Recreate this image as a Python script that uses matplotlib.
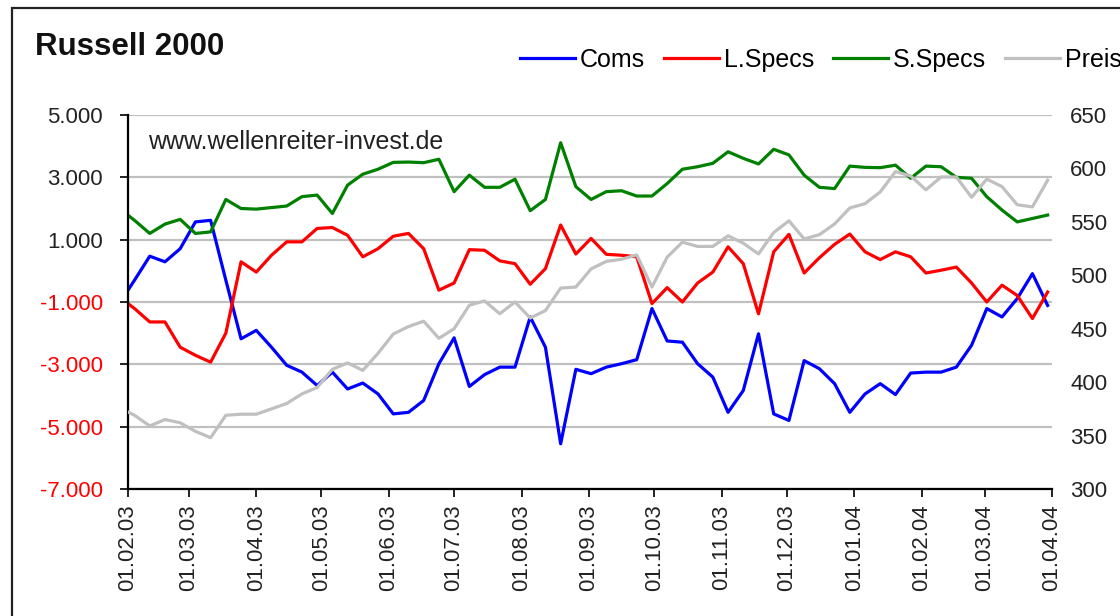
import matplotlib
matplotlib.use("Agg")
import matplotlib.pyplot as plt
import matplotlib.dates as mdates
from matplotlib.patches import Rectangle
from matplotlib.ticker import FuncFormatter
import pandas as pd

plt.rcParams['font.family'] = ['Liberation Sans', 'DejaVu Sans']

# weekly COT data (Tuesdays), first point lies just before the axis start
dates = pd.date_range("2003-01-28", periods=62, freq="7D")

coms = [-1050, -300, 470, 290, 710, 1570, 1620, -300, -2180, -1910,
        -2450, -3030, -3250, -3680, -3250, -3790, -3600, -3950, -4590, -4540,
        -4160, -2980, -2150, -3710, -3330, -3090, -3090, -1480, -2450, -5550,
        -3160, -3300, -3090, -2980, -2850, -1210, -2250, -2290, -2980, -3410,
        -4540, -3840, -2020, -4590, -4800, -2880, -3140, -3620, -4540, -3950,
        -3620, -3970, -3280, -3250, -3250, -3090, -2390, -1210, -1480, -890,
        -90, -1110]
l_specs = [-840, -1210, -1640, -1640, -2450, -2710, -2930, -2000, 290, -40,
           500, 930, 930, 1360, 1390, 1140, 450, 710, 1110, 1200,
           710, -620, -390, 680, 660, 320, 230, -430, 70, 1470,
           540, 1040, 530, 500, 450, -1050, -540, -1000, -390, -40,
           770, 230, -1380, 610, 1170, -70, 420, 850, 1180, 610,
           360, 610, 450, -70, 20, 120, -390, -1000, -460, -790,
           -1530, -680]
s_specs = [2000, 1620, 1200, 1500, 1650, 1200, 1250, 2290, 2000, 1980,
           2030, 2080, 2380, 2430, 1840, 2750, 3100, 3260, 3480, 3490,
           3470, 3580, 2540, 3070, 2680, 2680, 2940, 1930, 2290, 4110,
           2700, 2290, 2540, 2570, 2400, 2400, 2800, 3260, 3340, 3450,
           3820, 3610, 3430, 3900, 3720, 3070, 2680, 2640, 3360, 3320,
           3310, 3390, 2970, 3360, 3340, 3000, 2970, 2380, 1950, 1570,
           1680, 1790]
preis = [376, 369, 359, 365, 362, 354, 348, 369, 370, 370,
         375, 380, 389, 395, 412, 418, 411, 427, 445, 452,
         457, 441, 450, 472, 476, 464, 475, 460, 467, 488,
         489, 506, 513, 515, 519, 489, 517, 531, 527, 527,
         537, 530, 520, 540, 551, 534, 538, 548, 563, 567,
         578, 597, 593, 580, 592, 592, 573, 590, 583, 566,
         564, 589]

left_ticks = [-7000, -5000, -3000, -1000, 1000, 3000, 5000]
right_ticks = [300, 350, 400, 450, 500, 550, 600, 650]

fig = plt.figure(figsize=(11.2, 6.16), dpi=100)
fig.patches.append(Rectangle((12 / 1120, -0.1), 1.2, 1 - 8 / 616 + 0.1,
                             transform=fig.transFigure, fill=False,
                             edgecolor="#222222", linewidth=1.6))

ax = fig.add_axes([128 / 1120, 1 - 489 / 616, 924 / 1120, 374 / 616])
ax2 = ax.twinx()

lw = 2.3
h1, = ax.plot(dates, coms, color="#0000ff", lw=lw, label="Coms")
h2, = ax.plot(dates, l_specs, color="#ff0000", lw=lw, label="L.Specs")
h3, = ax.plot(dates, s_specs, color="#008000", lw=lw, label="S.Specs")
h4, = ax2.plot(dates, preis, color="#c0c0c0", lw=lw, label="Preis")

ax.set_xlim(pd.Timestamp("2003-02-01"), pd.Timestamp("2004-04-01"))
ax.set_ylim(-7000, 5000)
ax2.set_ylim(300, 650)
ax.set_yticks(left_ticks)
ax2.set_yticks(right_ticks)

ax.yaxis.set_major_formatter(FuncFormatter(lambda v, p: f"{v:,.0f}".replace(",", ".")))
ax.xaxis.set_major_locator(mdates.MonthLocator())
ax.xaxis.set_major_formatter(mdates.DateFormatter("%d.%m.%y"))

ax.grid(axis="y", color="#c0c0c0", lw=1.6)
ax.set_axisbelow(True)

for a in (ax, ax2):
    for s in ("top", "right"):
        a.spines[s].set_visible(False)
    a.spines["left"].set_visible(a is ax)
    a.spines["bottom"].set_visible(a is ax)
ax.spines["left"].set_linewidth(1.6)
ax.spines["bottom"].set_linewidth(1.6)

ax.tick_params(axis="y", length=6, width=1.4, labelsize=16, pad=12, colors="#222222")
ax.tick_params(axis="x", length=6, width=1.4, labelsize=16, pad=5, rotation=90,
               colors="#222222")
ax2.tick_params(axis="y", length=0, labelsize=16, pad=13, colors="#222222")

for lab, v in zip(ax.get_yticklabels(), left_ticks):
    if v < 0:
        lab.set_color("#ff0000")

ax.text(20 / 924, 0.928, "www.wellenreiter-invest.de",
        transform=ax.transAxes, fontsize=18, color="#222222", va="center")

fig.text(35 / 1120, 1 - 47 / 616, "Russell 2000", fontsize=22.5, fontweight="bold",
         va="center", ha="left", color="#111111")

fig.legend(handles=[h1, h2, h3, h4], loc="center left",
           bbox_to_anchor=(520 / 1120, 1 - 60 / 616), ncol=4, frameon=False,
           fontsize=18, handlelength=2.2, handletextpad=0.2, columnspacing=0.75,
           borderaxespad=0, borderpad=0)

fig.savefig("out.png", dpi=100)
